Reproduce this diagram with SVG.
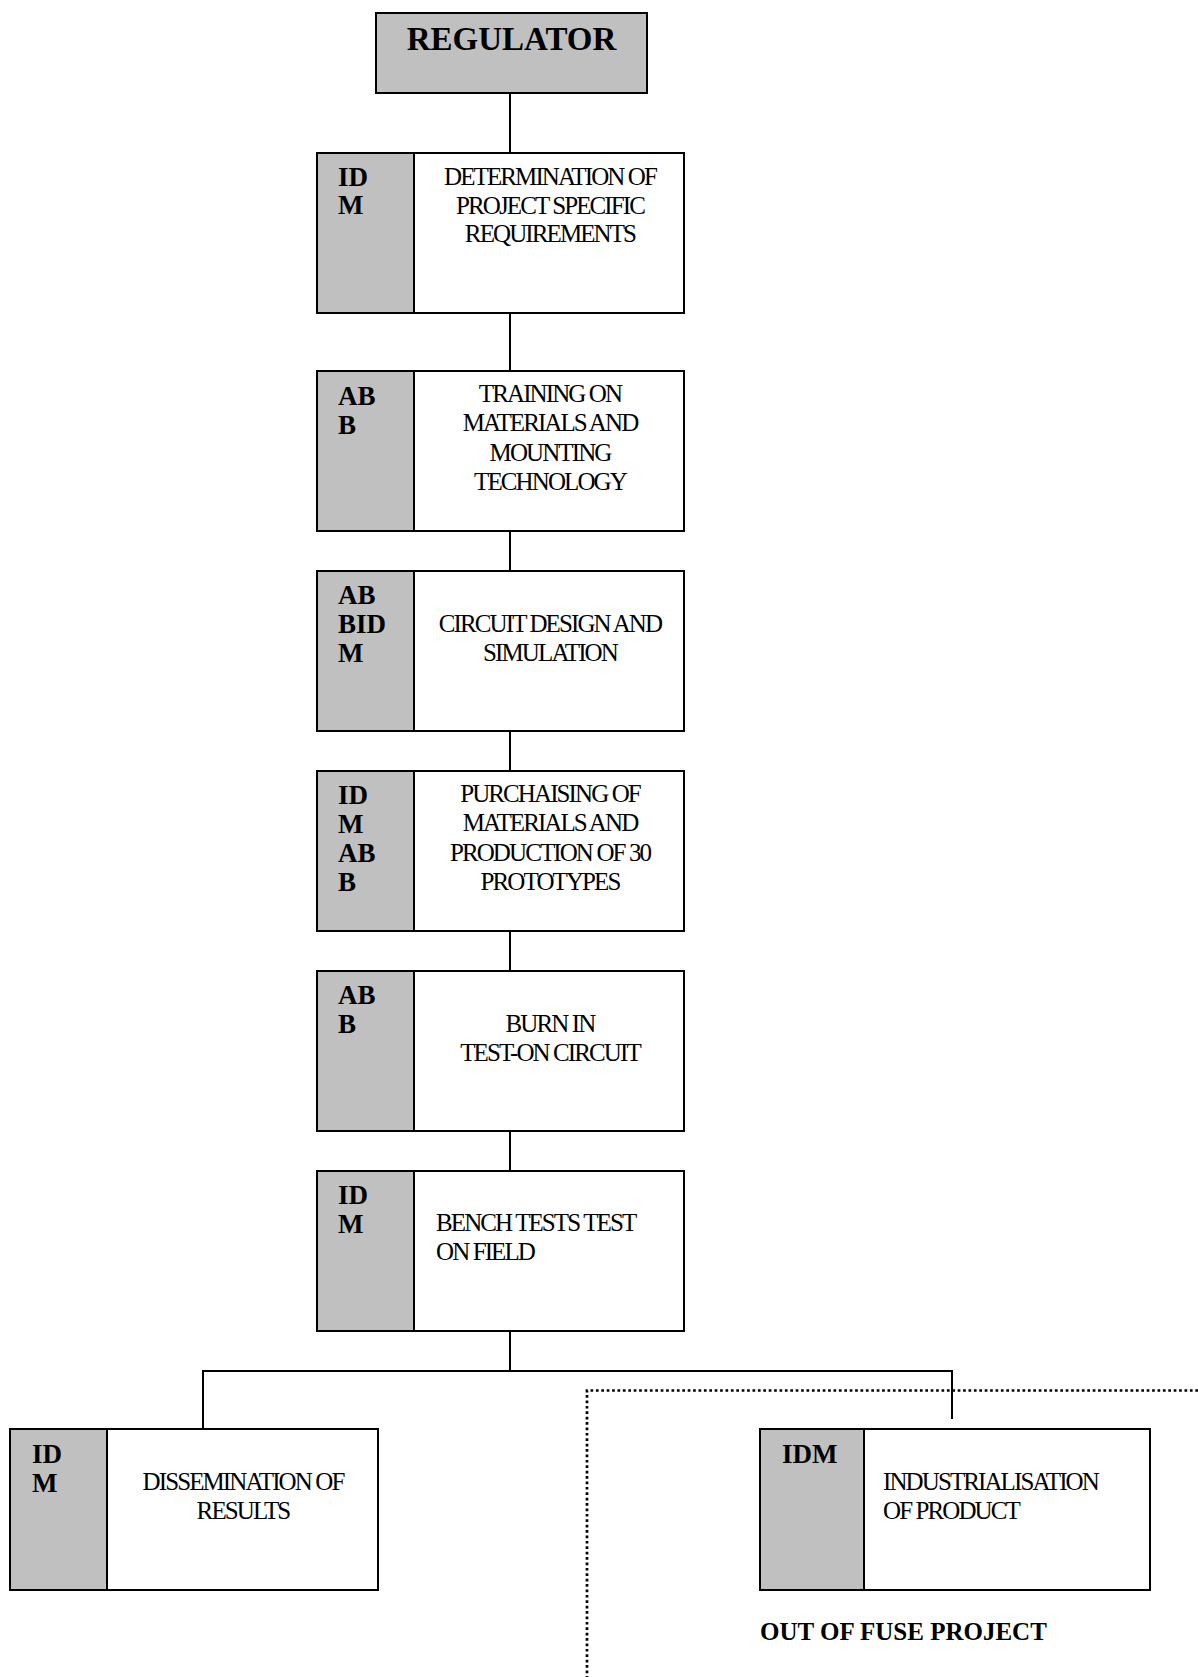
<svg xmlns="http://www.w3.org/2000/svg" width="1198" height="1677" viewBox="0 0 1198 1677">
<style>
  .box { fill: #ffffff; stroke: #000; stroke-width: 2; }
  .side { fill: #c0c0c0; stroke: #000; stroke-width: 2; }
  .reg { fill: #c0c0c0; stroke: #000; stroke-width: 2; }
  .lbl { font-family: "Liberation Serif", "Times New Roman", serif; font-weight: bold; font-size: 27px; fill: #000; }
  .txt { font-family: "Liberation Serif", "Times New Roman", serif; font-size: 25px; fill: #000; letter-spacing: -1.9px; }
  .mid { text-anchor: middle; }
  .title { font-family: "Liberation Serif", "Times New Roman", serif; font-weight: bold; font-size: 33px; fill: #000; text-anchor: middle; }
  .note { font-family: "Liberation Serif", "Times New Roman", serif; font-weight: bold; font-size: 25px; fill: #000; }
  .conn { fill: none; stroke: #000; stroke-width: 2; }
  .dot { fill: none; stroke: #000; stroke-width: 2.7; stroke-dasharray: 2.7 2.7; }
</style>
<rect width="1198" height="1677" fill="#fff"/>

<g id="connectors">
  <line class="conn" x1="510" y1="93" x2="510" y2="153"/>
  <line class="conn" x1="510" y1="313" x2="510" y2="371"/>
  <line class="conn" x1="510" y1="531" x2="510" y2="571"/>
  <line class="conn" x1="510" y1="731" x2="510" y2="771"/>
  <line class="conn" x1="510" y1="931" x2="510" y2="971"/>
  <line class="conn" x1="510" y1="1131" x2="510" y2="1171"/>
  <line class="conn" x1="510" y1="1331" x2="510" y2="1371"/>
  <polyline class="conn" points="203,1429 203,1371 952,1371 952,1419"/>
  <polyline class="dot" points="1198,1390.5 587,1390.5 587,1677"/>
</g>

<g id="regulator">
  <rect class="reg" x="376" y="13" width="271" height="80"/>
  <text class="title" x="511.5" y="50">REGULATOR</text>
</g>

<g id="node1">
  <rect class="box" x="317" y="153" width="367" height="160"/>
  <rect class="side" x="317" y="153" width="97" height="160"/>
  <text class="lbl" x="338" y="186">ID</text>
  <text class="lbl" x="338" y="214">M</text>
  <text class="txt mid" x="550" y="185">DETERMINATION OF</text>
  <text class="txt mid" x="550" y="213.5">PROJECT SPECIFIC</text>
  <text class="txt mid" x="550" y="242">REQUIREMENTS</text>
</g>

<g id="node2">
  <rect class="box" x="317" y="371" width="367" height="160"/>
  <rect class="side" x="317" y="371" width="97" height="160"/>
  <text class="lbl" x="338" y="405">AB</text>
  <text class="lbl" x="338" y="434">B</text>
  <text class="txt mid" x="550" y="402">TRAINING ON</text>
  <text class="txt mid" x="550" y="431">MATERIALS AND</text>
  <text class="txt mid" x="550" y="460.5">MOUNTING</text>
  <text class="txt mid" x="550" y="490">TECHNOLOGY</text>
</g>

<g id="node3">
  <rect class="box" x="317" y="571" width="367" height="160"/>
  <rect class="side" x="317" y="571" width="97" height="160"/>
  <text class="lbl" x="338" y="604">AB</text>
  <text class="lbl" x="338" y="633">BID</text>
  <text class="lbl" x="338" y="662">M</text>
  <text class="txt mid" x="550" y="632">CIRCUIT DESIGN AND</text>
  <text class="txt mid" x="550" y="661">SIMULATION</text>
</g>

<g id="node4">
  <rect class="box" x="317" y="771" width="367" height="160"/>
  <rect class="side" x="317" y="771" width="97" height="160"/>
  <text class="lbl" x="338" y="804">ID</text>
  <text class="lbl" x="338" y="833">M</text>
  <text class="lbl" x="338" y="862">AB</text>
  <text class="lbl" x="338" y="891">B</text>
  <text class="txt mid" x="550" y="802">PURCHAISING OF</text>
  <text class="txt mid" x="550" y="831">MATERIALS AND</text>
  <text class="txt mid" x="550" y="860.5">PRODUCTION OF 30</text>
  <text class="txt mid" x="550" y="890">PROTOTYPES</text>
</g>

<g id="node5">
  <rect class="box" x="317" y="971" width="367" height="160"/>
  <rect class="side" x="317" y="971" width="97" height="160"/>
  <text class="lbl" x="338" y="1004">AB</text>
  <text class="lbl" x="338" y="1033">B</text>
  <text class="txt mid" x="550" y="1032">BURN IN</text>
  <text class="txt mid" x="550" y="1061">TEST-ON CIRCUIT</text>
</g>

<g id="node6">
  <rect class="box" x="317" y="1171" width="367" height="160"/>
  <rect class="side" x="317" y="1171" width="97" height="160"/>
  <text class="lbl" x="338" y="1204">ID</text>
  <text class="lbl" x="338" y="1233">M</text>
  <text class="txt" x="436" y="1231">BENCH TESTS TEST</text>
  <text class="txt" x="436" y="1260">ON FIELD</text>
</g>

<g id="node7">
  <rect class="box" x="10" y="1429" width="368" height="161"/>
  <rect class="side" x="10" y="1429" width="97" height="161"/>
  <text class="lbl" x="32" y="1463">ID</text>
  <text class="lbl" x="32" y="1492">M</text>
  <text class="txt mid" x="243" y="1490">DISSEMINATION OF</text>
  <text class="txt mid" x="243" y="1519">RESULTS</text>
</g>

<g id="node8">
  <rect class="box" x="760" y="1429" width="390" height="161"/>
  <rect class="side" x="760" y="1429" width="104" height="161"/>
  <text class="lbl" x="782" y="1463">IDM</text>
  <text class="txt" x="883" y="1490">INDUSTRIALISATION</text>
  <text class="txt" x="883" y="1519">OF PRODUCT</text>
</g>

<g id="note">
  <text class="note" x="760" y="1640">OUT OF FUSE PROJECT</text>
</g>
</svg>
